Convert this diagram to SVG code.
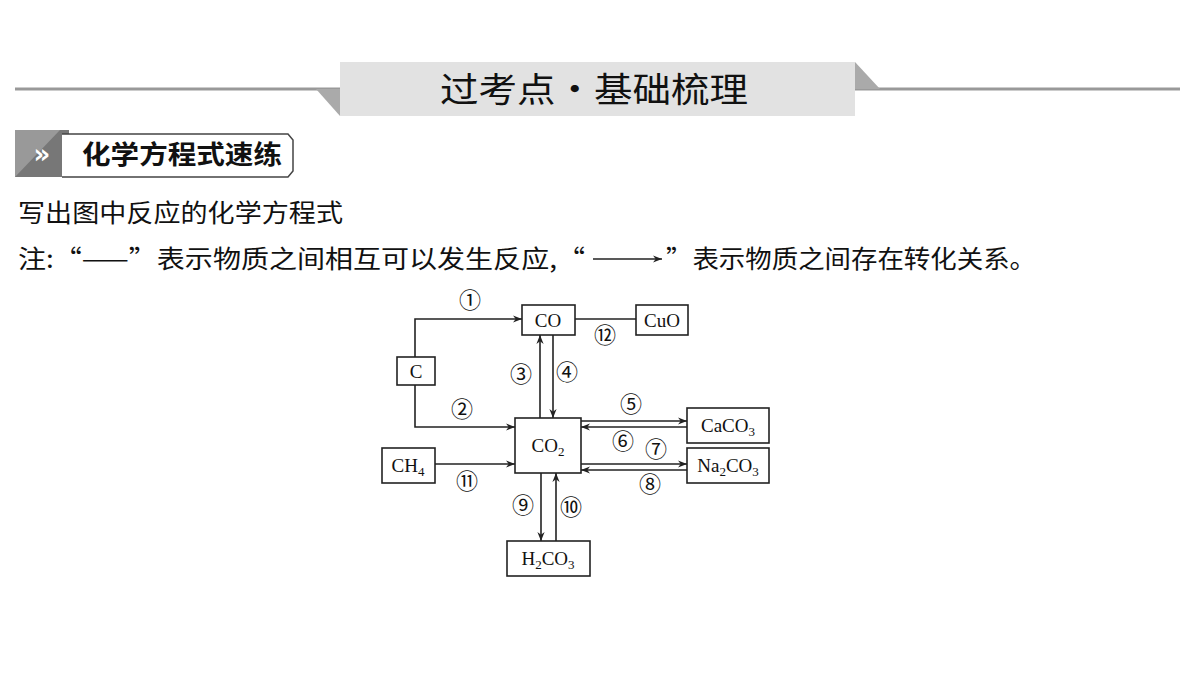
<svg xmlns="http://www.w3.org/2000/svg" width="1200" height="679" viewBox="0 0 1200 679">
<defs>
<marker id="ah" viewBox="0 0 10 10" refX="10" refY="5" markerWidth="9" markerHeight="9" markerUnits="userSpaceOnUse" orient="auto"><path d="M0,1 L10,5 L0,9 L3,5 Z" fill="#222"/></marker>
</defs>
<style>
.bx{fill:#fff;stroke:#222;stroke-width:1.6}
.ln{fill:none;stroke:#222;stroke-width:1.6}
.ar{fill:none;stroke:#222;stroke-width:1.6;marker-end:url(#ah)}
.nt{font-family:"Liberation Serif",serif;font-size:19px;fill:#111;text-anchor:middle}
.sb{font-size:13px}
.lb{font-family:"Noto Sans CJK SC","DejaVu Sans",sans-serif;font-size:22px;fill:#111;text-anchor:middle}
.cn{font-family:"Noto Sans CJK SC",sans-serif;fill:#111}
</style>
<rect width="1200" height="679" fill="#fff"/>
<g id="header">
<rect x="15" y="87.5" width="1165" height="3" fill="#999"/>
<rect x="340" y="62" width="515" height="54" fill="#e2e2e2"/>
<polygon points="316,89 340,89 340,116" fill="#aaa"/>
<polygon points="855,62 880,89 855,89" fill="#aaa"/>
<text x="440" y="102" class="cn" font-size="34" textLength="308" lengthAdjust="spacingAndGlyphs">过考点·基础梳理</text>
</g>
<g id="badge">
<rect x="15" y="130" width="54" height="47" fill="#777"/>
<polygon points="15,130 60,130 15,177" fill="#999"/>
<text x="42" y="163" font-family="DejaVu Sans,sans-serif" font-size="26" font-weight="bold" fill="#fff" text-anchor="middle">»</text>
<path d="M62,134 L288,134 L293,140 L293,171 L288,177 L62,177" fill="#fff" stroke="#444" stroke-width="1.5"/>
<text x="82" y="164" class="cn" font-size="26" font-weight="bold" textLength="200" lengthAdjust="spacingAndGlyphs">化学方程式速练</text>
</g>
<text x="18" y="222" class="cn" font-size="25" textLength="325" lengthAdjust="spacingAndGlyphs">写出图中反应的化学方程式</text>
<text x="18" y="268" class="cn" font-size="25" textLength="567" lengthAdjust="spacingAndGlyphs">注:“——”表示物质之间相互可以发生反应,“</text>
<text x="666" y="268" class="cn" font-size="25" textLength="370" lengthAdjust="spacingAndGlyphs">”表示物质之间存在转化关系。</text>
<line x1="593" y1="259" x2="662" y2="259" class="ar"/>
<g id="connectors">
<polyline points="415,357 415,319 522,319" class="ar"/>
<polyline points="415,385 415,427 515,427" class="ar"/>
<line x1="435" y1="464" x2="515" y2="464" class="ar"/>
<line x1="575" y1="319" x2="636" y2="319" class="ln"/>
<line x1="540" y1="418" x2="540" y2="335" class="ar"/>
<line x1="553" y1="335" x2="553" y2="418" class="ar"/>
<line x1="581" y1="421" x2="687" y2="421" class="ar"/>
<line x1="687" y1="427" x2="581" y2="427" class="ar"/>
<line x1="581" y1="464" x2="687" y2="464" class="ar"/>
<line x1="687" y1="470" x2="581" y2="470" class="ar"/>
<line x1="541" y1="473" x2="541" y2="541" class="ar"/>
<line x1="556" y1="541" x2="556" y2="473" class="ar"/>
</g>
<g id="C"><rect x="397" y="357" width="38" height="28" class="bx"/><text x="416" y="378" class="nt">C</text></g>
<g id="CO"><rect x="522" y="305" width="53" height="30" class="bx"/><text x="548" y="327" class="nt">CO</text></g>
<g id="CuO"><rect x="636" y="305" width="52" height="30" class="bx"/><text x="662" y="327" class="nt">CuO</text></g>
<g id="CO2"><rect x="515" y="418" width="66" height="55" class="bx"/><text x="548" y="452" class="nt">CO<tspan class="sb" dy="4">2</tspan></text></g>
<g id="CaCO3"><rect x="687" y="408" width="82" height="35" class="bx"/><text x="728" y="432" class="nt">CaCO<tspan class="sb" dy="4">3</tspan></text></g>
<g id="Na2CO3"><rect x="687" y="448" width="82" height="35" class="bx"/><text x="728" y="472" class="nt">Na<tspan class="sb" dy="4">2</tspan><tspan dy="-4">CO</tspan><tspan class="sb" dy="4">3</tspan></text></g>
<g id="CH4"><rect x="382" y="448" width="53" height="35" class="bx"/><text x="408" y="472" class="nt">CH<tspan class="sb" dy="4">4</tspan></text></g>
<g id="H2CO3"><rect x="507" y="541" width="83" height="35" class="bx"/><text x="548" y="565" class="nt">H<tspan class="sb" dy="4">2</tspan><tspan dy="-4">CO</tspan><tspan class="sb" dy="4">3</tspan></text></g>
<g id="labels">
<text x="470" y="308" class="lb">①</text>
<text x="462" y="417" class="lb">②</text>
<text x="521" y="382" class="lb">③</text>
<text x="567" y="380" class="lb">④</text>
<text x="631" y="412" class="lb">⑤</text>
<text x="623" y="449" class="lb">⑥</text>
<text x="656" y="457" class="lb">⑦</text>
<text x="650" y="492" class="lb">⑧</text>
<text x="523" y="513" class="lb">⑨</text>
<text x="571" y="515" class="lb">⑩</text>
<text x="467" y="489" class="lb">⑪</text>
<text x="605" y="343" class="lb">⑫</text>
</g>
</svg>
